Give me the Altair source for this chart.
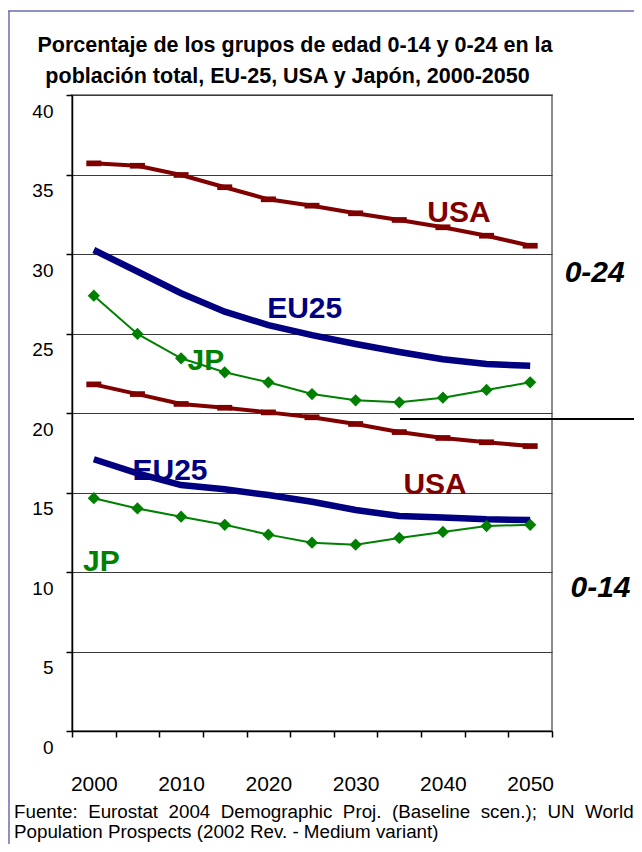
import altair as alt
import pandas as pd

# ---------------- data ----------------
years = [2000, 2005, 2010, 2015, 2020, 2025, 2030, 2035, 2040, 2045, 2050]

usa_0_24 = [35.7, 35.55, 34.97, 34.2, 33.44, 33.04, 32.56, 32.14, 31.68, 31.15, 30.52]
eu25_0_24 = [30.25, 28.9, 27.53, 26.37, 25.53, 24.9, 24.34, 23.84, 23.38, 23.08, 22.97]
jp_0_24 = [27.38, 24.97, 23.44, 22.56, 21.93, 21.19, 20.8, 20.67, 20.96, 21.45, 21.93]

usa_0_14 = [21.8, 21.19, 20.57, 20.33, 20.04, 19.73, 19.31, 18.8, 18.43, 18.16, 17.92]
eu25_0_14 = [17.09, 16.2, 15.47, 15.2, 14.84, 14.42, 13.9, 13.52, 13.42, 13.31, 13.27]
jp_0_14 = [14.64, 14.0, 13.48, 12.97, 12.35, 11.84, 11.72, 12.14, 12.52, 12.89, 12.97]

series_names = ["USA", "EU25", "JP"]
series_colors = ["#800000", "#000080", "#008000"]

label_text = ["USA", "EU25", "JP", "EU25", "USA", "JP"]
label_series = ["USA", "EU25", "JP", "EU25", "USA", "JP"]
label_year = [2041.84, 2024.16, 2012.85, 2008.73, 2039.1, 2000.86]
label_value = [32.61, 26.57, 23.27, 16.38, 15.45, 10.6]

group_text = ["0-24", "0-14"]
group_year = [2057.39, 2058.06]
group_value = [28.82, 8.97]

sep_year = [2035.08]
sep_year2 = [2062.8]
sep_value = [19.62]

title_lines = ["Porcentaje de los grupos de edad 0-14 y 0-24 en la",
               "población total, EU-25, USA y Japón, 2000-2050"]
# first source line is justified in the original: widen the word gaps
footer_words_1 = ["Fuente:", "Eurostat", "2004", "Demographic", "Proj.", "(Baseline",
                  "scen.);", "UN", "World"]
footer_lines = [" \u00a0".join(footer_words_1),
                "Population Prospects (2002 Rev. - Medium variant)"]

y_ticks = [0, 5, 10, 15, 20, 25, 30, 35, 40]
x_ticks = [1997.5 + 5 * i for i in range(12)]

# ---------------- tables ----------------
rows = []
for grp, block in [("0-24", {"USA": usa_0_24, "EU25": eu25_0_24, "JP": jp_0_24}),
                   ("0-14", {"USA": usa_0_14, "EU25": eu25_0_14, "JP": jp_0_14})]:
    for s, vals in block.items():
        for yr, v in zip(years, vals):
            rows.append({"year": yr, "value": v, "series": s, "group": grp})
df = pd.DataFrame(rows)

labels_df = pd.DataFrame({"text": label_text, "series": label_series,
                          "lx": label_year, "ly": label_value})
groups_df = pd.DataFrame({"text": group_text, "gx": group_year, "gy": group_value})
sep_df = pd.DataFrame({"sx": sep_year, "sx2": sep_year2, "sy": sep_value})
one = pd.DataFrame({"k": [0]})

FONT = "Liberation Sans"

xscale = alt.Scale(domain=[1997.5, 2052.5], nice=False, zero=False)
yscale = alt.Scale(domain=[0, 40], nice=False, zero=False)

xaxis = alt.Axis(values=x_ticks,
                 labelExpr="((datum.value + 2.5) % 10 == 0 && datum.value < 2050) ? format(datum.value + 2.5, 'd') : ''",
                 labelOffset=21.8, labelPadding=36, tickSize=6, tickColor="black",
                 tickWidth=1.5, domainColor="black", domainWidth=1.5,
                 labelFontSize=21, labelFont=FONT, labelColor="black",
                 grid=False, labelFlush=False, labelOverlap=False)
yaxis = alt.Axis(values=y_ticks, grid=True, gridColor="#3a3a3a", gridWidth=1,
                 tickSize=6, tickColor="black", tickWidth=1.5,
                 domainColor="black", domainWidth=1.5,
                 labelFontSize=19, labelFont=FONT, labelColor="black",
                 labelPadding=13, labelOffset=16, labelFlush=False)


def X(f):
    return alt.X(f"{f}:Q", scale=xscale, axis=xaxis, title=None)


def Y(f):
    return alt.Y(f"{f}:Q", scale=yscale, axis=yaxis, title=None)


color_scale = alt.Scale(domain=series_names, range=series_colors)

eu = alt.Chart(df[df.series == "EU25"]).mark_line(
    color="#000080", strokeWidth=6.5).encode(x=X("year"), y=Y("value"), detail="group:N")
usa_line = alt.Chart(df[df.series == "USA"]).mark_line(
    color="#800000", strokeWidth=4).encode(x=X("year"), y=Y("value"), detail="group:N")
usa_pts = alt.Chart(df[df.series == "USA"]).mark_point(
    shape="M-1,-0.38L1,-0.38L1,0.38L-1,0.38Z", size=225, filled=True,
    color="#800000", opacity=1, strokeWidth=0).encode(x=X("year"), y=Y("value"))
jp_line = alt.Chart(df[df.series == "JP"]).mark_line(
    color="#008000", strokeWidth=2).encode(x=X("year"), y=Y("value"), detail="group:N")
jp_pts = alt.Chart(df[df.series == "JP"]).mark_point(
    shape="diamond", size=150, filled=True, color="#008000", opacity=1,
    strokeWidth=0).encode(x=X("year"), y=Y("value"))

labels = alt.Chart(labels_df).mark_text(
    font=FONT, fontSize=30, fontWeight="bold", baseline="middle", align="center").encode(
    x=X("lx"), y=Y("ly"), text="text:N",
    color=alt.Color("series:N", scale=color_scale, legend=None))

group_labels = alt.Chart(groups_df).mark_text(
    font=FONT, fontSize=30, fontWeight="bold", fontStyle="italic",
    baseline="middle", align="center", color="black").encode(
    x=X("gx"), y=Y("gy"), text="text:N")

sep = alt.Chart(sep_df).mark_rule(color="black", strokeWidth=2).encode(
    x=X("sx"), x2="sx2:Q", y=Y("sy"))

# decorations (frame, title, source note)
frame_left = alt.Chart(one).mark_rule(color="#6b6bb0", strokeWidth=1.5).encode(
    x=alt.value(-63), y=alt.value(-84), y2=alt.value(780))
frame_top = alt.Chart(one).mark_rule(color="#6b6bb0", strokeWidth=1.5).encode(
    x=alt.value(-64), x2=alt.value(600), y=alt.value(-84))

title1 = alt.Chart(one).mark_text(font=FONT, fontSize=21.5, fontWeight="bold",
                                  align="center", baseline="middle", color="black",
                                  text=title_lines[0]).encode(x=alt.value(223), y=alt.value(-49))
title2 = alt.Chart(one).mark_text(font=FONT, fontSize=21.5, fontWeight="bold",
                                  align="center", baseline="middle", color="black",
                                  text=title_lines[1]).encode(x=alt.value(215.5), y=alt.value(-18))
foot1 = alt.Chart(one).mark_text(font=FONT, fontSize=18.8, align="left", baseline="middle",
                                 color="black", text=footer_lines[0]).encode(
    x=alt.value(-58), y=alt.value(717))
foot2 = alt.Chart(one).mark_text(font=FONT, fontSize=18.8, align="left", baseline="middle",
                                 color="black", text=footer_lines[1]).encode(
    x=alt.value(-58), y=alt.value(737))

chart = alt.layer(
    eu, usa_line, usa_pts, jp_line, jp_pts, labels, group_labels, sep,
    frame_left, frame_top, title1, title2, foot1, foot2
).properties(
    width=480, height=636,
    autosize=alt.AutoSizeParams(type="none"),
    padding={"left": 64, "top": 87, "right": 82, "bottom": 113},
).configure_view(stroke="#8c8c8c", strokeWidth=2)

chart.save("out.html", embed_options={"renderer": "svg", "actions": False})
